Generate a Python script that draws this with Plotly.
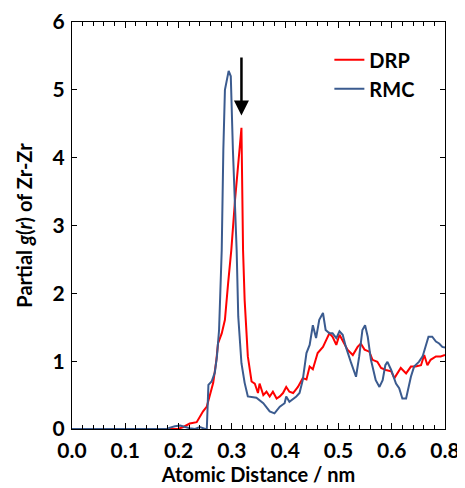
import plotly.graph_objects as go

# RMC (blue) partial g(r)
rmc_r = [0.0, 0.178, 0.184, 0.193, 0.203, 0.212, 0.221, 0.231, 0.240, 0.250, 0.253,
         0.256, 0.262, 0.268, 0.272, 0.276, 0.281, 0.284, 0.287, 0.294, 0.298,
         0.302, 0.309, 0.312, 0.318, 0.324, 0.330, 0.346, 0.359, 0.371, 0.380,
         0.390, 0.399, 0.402, 0.408, 0.421, 0.427, 0.433, 0.440, 0.446, 0.452,
         0.458, 0.464, 0.471, 0.476, 0.483, 0.489, 0.496, 0.502, 0.508, 0.514,
         0.524, 0.533, 0.539, 0.545, 0.550, 0.555, 0.561, 0.570, 0.577, 0.583,
         0.588, 0.592, 0.599, 0.608, 0.614, 0.620, 0.627, 0.636, 0.642, 0.651,
         0.658, 0.664, 0.669, 0.676, 0.683, 0.689, 0.695, 0.700]
rmc_g = [0.0, 0.0, 0.02, 0.04, 0.05, 0.03, 0.01, 0.0, 0.03, 0.0, 0.0,
         0.65, 0.70, 0.83, 1.07, 1.46, 2.64, 4.11, 5.00, 5.28, 5.20,
         4.11, 2.64, 1.66, 0.97, 0.68, 0.48, 0.46, 0.38, 0.26, 0.23,
         0.33, 0.38, 0.48, 0.40, 0.48, 0.53, 0.72, 1.12, 1.24, 1.53,
         1.34, 1.61, 1.71, 1.46, 1.41, 1.41, 1.34, 1.44, 1.39, 1.21,
         0.97, 0.77, 1.07, 1.46, 1.53, 1.36, 1.02, 0.72, 0.62, 0.72,
         0.94, 0.99, 0.87, 0.67, 0.60, 0.45, 0.45, 0.77, 0.92, 0.99,
         1.07, 1.21, 1.36, 1.36, 1.29, 1.26, 1.21, 1.20]

# DRP (red) partial g(r)
drp_r = [0.0, 0.199, 0.209, 0.221, 0.234, 0.240, 0.246, 0.253, 0.259, 0.265,
         0.271, 0.274, 0.281, 0.287, 0.293, 0.299, 0.306, 0.312, 0.318, 0.321,
         0.324, 0.330, 0.337, 0.343, 0.349, 0.352, 0.359, 0.365, 0.371, 0.377,
         0.384, 0.390, 0.396, 0.402, 0.408, 0.415, 0.424, 0.433, 0.440, 0.446,
         0.452, 0.461, 0.471, 0.477, 0.483, 0.489, 0.496, 0.502, 0.508, 0.517,
         0.527, 0.536, 0.542, 0.549, 0.558, 0.564, 0.573, 0.580, 0.589, 0.599,
         0.605, 0.611, 0.617, 0.627, 0.636, 0.645, 0.655, 0.661, 0.667, 0.673,
         0.683, 0.692, 0.700]
drp_g = [0.0, 0.0, 0.03, 0.08, 0.10, 0.18, 0.26, 0.33, 0.50, 0.68,
         1.02, 1.26, 1.41, 1.61, 2.15, 2.64, 3.38, 3.97, 4.44, 2.64,
         1.90, 1.07, 0.70, 0.67, 0.53, 0.67, 0.50, 0.55, 0.48, 0.55,
         0.45, 0.48, 0.53, 0.62, 0.55, 0.53, 0.62, 0.75, 0.73, 0.92,
         0.88, 1.12, 1.21, 1.31, 1.41, 1.36, 1.24, 1.39, 1.31, 1.17,
         1.09, 1.21, 1.26, 1.17, 1.14, 1.02, 0.99, 0.90, 0.87, 0.85,
         0.75, 0.82, 0.90, 0.82, 0.92, 0.92, 0.94, 1.09, 0.94, 1.02,
         1.07, 1.07, 1.09]

x_tickvals = [0.0, 0.1, 0.2, 0.3, 0.4, 0.5, 0.6, 0.7]
x_ticktext = ["0.0", "0.1", "0.2", "0.3", "0.4", "0.5", "0.6", "0.8"]
y_tickvals = [0, 1, 2, 3, 4, 5, 6]

arrow_r = 0.318
arrow_tip = 4.62
arrow_tail = 5.5

FONT = "Lato"
RED = "#ff0000"
BLUE = "#3b5b8f"

fig = go.Figure()
fig.add_trace(go.Scatter(x=drp_r, y=drp_g, mode="lines", name="DRP",
                         line=dict(color=RED, width=2)))
fig.add_trace(go.Scatter(x=rmc_r, y=rmc_g, mode="lines", name="RMC",
                         line=dict(color=BLUE, width=2)))

fig.add_annotation(x=arrow_r, y=arrow_tip, ax=arrow_r, ay=arrow_tail,
                   xref="x", yref="y", axref="x", ayref="y",
                   showarrow=True, arrowhead=2, arrowsize=1.2, arrowwidth=2.5,
                   arrowcolor="black", text="")

# page body has an 8px default margin, so the figure is 8px smaller
fig.update_layout(
    width=457, height=480,
    margin=dict(l=63.5, r=20, t=14, b=59, autoexpand=False),
    paper_bgcolor="white", plot_bgcolor="white",
    font=dict(family=FONT, color="black"),
    showlegend=True,
    legend=dict(x=0.69, y=0.955, xanchor="left", yanchor="top",
                bgcolor="rgba(0,0,0,0)", font=dict(size=20, family=FONT, weight="bold"),
                itemwidth=30, tracegroupgap=3),
)
fig.update_xaxes(
    range=[0, 0.7], tickvals=x_tickvals, ticktext=x_ticktext,
    ticks="inside", ticklen=6, tickwidth=1, tickcolor="black",
    minor=dict(dtick=0.02, ticks="inside", ticklen=4, tickcolor="black", tickwidth=1),
    showline=True, linecolor="black", linewidth=1, mirror="ticks",
    showgrid=False, zeroline=False, ticklabelstandoff=3,
    tickfont=dict(size=21, family=FONT, weight="bold"),
    title=dict(text="Atomic Distance / nm", font=dict(size=20, family=FONT, weight="bold"), standoff=0),
)
fig.update_yaxes(
    range=[0, 6], tickvals=y_tickvals,
    ticks="inside", ticklen=5, tickwidth=1, tickcolor="black",
    showline=True, linecolor="black", linewidth=1, mirror="ticks",
    showgrid=False, zeroline=False, ticklabelstandoff=2,
    tickfont=dict(size=21, family=FONT, weight="bold"),
    title=dict(text="Partial <i>g</i>(<i>r</i>) of Zr-Zr", font=dict(size=20, family=FONT, weight="bold"), standoff=14),
)

fig.write_html("out.html")
